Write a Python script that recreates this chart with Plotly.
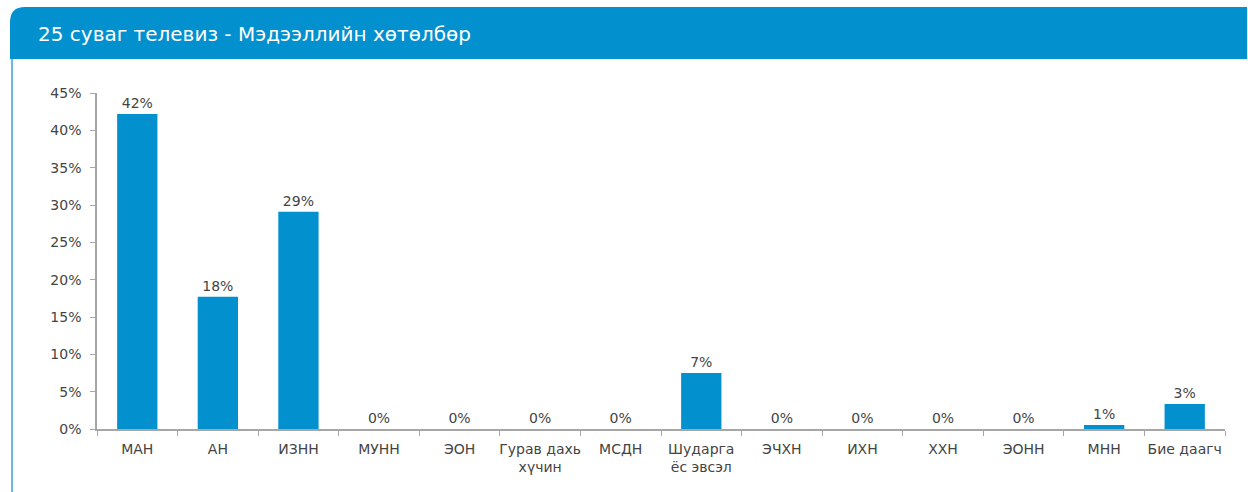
import plotly.graph_objects as go

categories = ["МАН", "АН", "ИЗНН", "МУНН", "ЭОН", "Гурав дахь<br>хүчин", "МСДН",
              "Шударга<br>ёс эвсэл", "ЭЧХН", "ИХН", "ХХН", "ЭОНН", "МНН", "Бие даагч"]
values = [0.422, 0.177, 0.291, 0.0, 0.0, 0.0, 0.0, 0.075, 0.0, 0.0, 0.0, 0.0, 0.0055, 0.0335]
labels = ["42%", "18%", "29%", "0%", "0%", "0%", "0%", "7%", "0%", "0%", "0%", "0%", "1%", "3%"]
y_ticks = [0, 0.05, 0.10, 0.15, 0.20, 0.25, 0.30, 0.35, 0.40, 0.45]
title_text = "25 суваг телевиз - Мэдээллийн хөтөлбөр"

W, H = 1248, 492
L, R, T, B = 97, 23, 93, 63
PW, PH = W - L - R, H - T - B

def px(x):
    return (x - L) / PW

def py(y):
    return (H - B - y) / PH

BLUE = "#0290cf"
FONT = "DejaVu Sans"
TXT = "#444444"
FS = 14

fig = go.Figure(go.Bar(
    x=categories, y=values, text=labels, textposition="outside",
    marker=dict(color=BLUE, line=dict(width=0)),
    textfont=dict(family=FONT, size=FS, color=TXT),
    cliponaxis=False, hoverinfo="skip",
))

header = (f"M {px(10)},{py(59)} L {px(10)},{py(22)} Q {px(10)},{py(7)} {px(25)},{py(7)} "
          f"L {px(1247)},{py(7)} L {px(1247)},{py(59)} Z")

fig.update_layout(
    width=W, height=H,
    margin=dict(l=L, r=R, t=T, b=B, autoexpand=False),
    paper_bgcolor="white", plot_bgcolor="white",
    bargap=0.5, showlegend=False,
    font=dict(family=FONT, color=TXT, size=FS),
    shapes=[
        dict(type="path", xref="paper", yref="paper", path=header,
             fillcolor=BLUE, line=dict(width=0), layer="below"),
        dict(type="line", xref="paper", yref="paper",
             x0=px(12), x1=px(12), y0=py(59), y1=py(492),
             line=dict(color="#3aa0dc", width=1.5)),
    ],
    annotations=[
        dict(text=title_text, xref="paper", yref="paper", x=px(36), y=py(34),
             xanchor="left", yanchor="middle", showarrow=False,
             font=dict(family=FONT, size=20, color="white")),
    ],
    xaxis=dict(
        showline=True, linecolor="#a6a6a6", linewidth=1.5,
        ticks="outside", tickson="boundaries", ticklen=5, tickcolor="#a6a6a6",
        tickfont=dict(family=FONT, size=FS, color=TXT), tickangle=0,
        ticklabelstandoff=6,
        automargin=False, showgrid=False, fixedrange=True,
    ),
    yaxis=dict(
        range=[0, 0.45], tickvals=y_ticks, tickformat=".0%",
        showline=True, linecolor="#a6a6a6", linewidth=1.5,
        ticks="outside", ticklen=5, tickcolor="#a6a6a6",
        tickfont=dict(family=FONT, size=FS, color=TXT),
        ticklabelstandoff=6,
        automargin=False, showgrid=False, zeroline=False, fixedrange=True,
    ),
)

fig.write_html("out.html", config={"displayModeBar": False},
               post_script="document.body.style.margin='0';document.body.style.overflow='hidden';")
